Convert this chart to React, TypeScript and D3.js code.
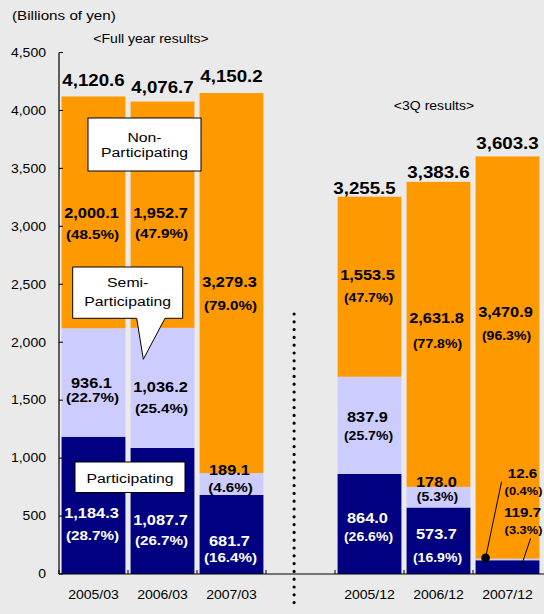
import React from "react";
import * as d3 from "d3";

// ---------- data ----------
const periods = ["2005/03", "2006/03", "2007/03", "2005/12", "2006/12", "2007/12"];
const slots = ["2005/03", "2006/03", "2007/03", "gap", "2005/12", "2006/12", "2007/12"];
const participating = [1184.3, 1087.7, 681.7, 864.0, 573.7, 119.7];
const semiParticipating = [936.1, 1036.2, 189.1, 837.9, 178.0, 12.6];
const nonParticipating = [2000.1, 1952.7, 3279.3, 1553.5, 2631.8, 3470.9];
const totals = [4120.6, 4076.7, 4150.2, 3255.5, 3383.6, 3603.3];
const participatingPct = ["28.7", "26.7", "16.4", "26.6", "16.9", "3.3"];
const semiPct = ["22.7", "25.4", "4.6", "25.7", "5.3", "0.4"];
const nonPct = ["48.5", "47.9", "79.0", "47.7", "77.8", "96.3"];
const yTicks = [0, 500, 1000, 1500, 2000, 2500, 3000, 3500, 4000, 4500];
const seriesKeys = ["participating", "semi", "non"];

// ---------- styling / layout ----------
const W = 544, H = 614;
const SX = 1.17; // horizontal glyph stretch of the reference
const FONT = "'Liberation Sans', Arial, Helvetica, sans-serif";
const COLORS: Record<string, string> = { participating: "#000080", semi: "#CCCCFF", non: "#FF9900" };
const TEXT_FILL: Record<string, string> = { participating: "#FFFFFF", semi: "#000000", non: "#000000" };
// label baseline offset from segment middle, and gap to the percent line
const LABEL_DY: Record<string, number[]> = {
  participating: [12.6, 14, 11.5, -1, -1.7, 0],
  semi: [5.5, 4, -9, -3.3, -10.2, 0],
  non: [5.6, 3.3, 4, -6.7, -11.4, -40.5],
};
const LABEL_GAP: Record<string, number[]> = {
  participating: [22, 20, 16, 18, 23, 17],
  semi: [14, 21, 17, 18, 14, 17],
  non: [21, 20, 23, 22, 25, 23],
};
const TOTAL_DY = [10.5, 8.6, 11, 3, 4, 7];

const fmt = d3.format(",.1f");

function T(props: {
  x: number; y: number; size: number; bold?: boolean; anchor?: string; fill?: string; children: React.ReactNode;
}) {
  const { x, y, size, bold, anchor = "middle", fill = "#000", children } = props;
  return (
    <text
      transform={`translate(${x},${y}) scale(${SX},1)`}
      fontFamily={FONT}
      fontSize={size}
      fontWeight={bold ? "bold" : "normal"}
      textAnchor={anchor}
      fill={fill}
    >
      {children}
    </text>
  );
}

export default function App() {
  const x = d3.scaleBand<string>().domain(slots).range([59, 542]).paddingInner(0.075).paddingOuter(0.0375);
  const y = d3.scaleLinear().domain([0, 4500]).range([574, 52.5]);
  const bw = x.bandwidth();

  const rows = periods.map((p, i) => ({
    period: p,
    participating: participating[i],
    semi: semiParticipating[i],
    non: nonParticipating[i],
  }));
  const stacked = d3.stack<any>().keys(seriesKeys)(rows);
  const pcts: Record<string, string[]> = { participating: participatingPct, semi: semiPct, non: nonPct };

  const step = x.step();
  const x0 = x.range()[0];
  const xTickPositions = d3.range(0, slots.length).map((i) => x0 + i * step);

  const last = periods.length - 1;
  const lastX = x(periods[last])!;
  const calloutX = lastX + bw * 0.72;

  return (
    <svg width={W} height={H} style={{ position: "absolute", left: 0, top: 0, display: "block" }}>
      <rect x={0} y={0} width={W} height={H} fill="#EAEAEA" />

      {/* bars */}
      {stacked.map((s) =>
        s.map((d, i) => (
          <rect
            key={s.key + i}
            x={x(periods[i])}
            y={y(d[1])}
            width={bw}
            height={Math.max(0, y(d[0]) - y(d[1]))}
            fill={COLORS[s.key]}
          />
        ))
      )}
      {/* thin separator line above participating in last bar */}
      <line x1={lastX} x2={lastX + bw} y1={y(participating[last]) - 0.5} y2={y(participating[last]) - 0.5} stroke="#CCCCFF" strokeWidth={1.2} />

      {/* axes */}
      <line x1={59} x2={59} y1={y(4500)} y2={y(0)} stroke="#000" strokeWidth={1.2} />
      {yTicks.map((t) => (
        <g key={t}>
          <line x1={59} x2={63} y1={y(t)} y2={y(t)} stroke="#000" strokeWidth={1} />
          <T x={46} y={y(t) + 4.3} size={12} anchor="end">{d3.format(",")(t)}</T>
        </g>
      ))}
      <line x1={59} x2={W} y1={y(0)} y2={y(0)} stroke="#000" strokeWidth={1.2} />
      {xTickPositions.map((px, i) => (
        <line key={i} x1={px} x2={px} y1={y(0)} y2={y(0) - 4} stroke="#000" strokeWidth={1} />
      ))}
      {periods.map((p) => (
        <T key={p} x={x(p)! + bw / 2} y={599} size={12}>{p}</T>
      ))}

      {/* dotted separator */}
      <line
        x1={x("gap")! + bw * 0.4}
        x2={x("gap")! + bw * 0.4}
        y1={314}
        y2={606}
        stroke="#000"
        strokeWidth={3.2}
        strokeLinecap="round"
        strokeDasharray="0 7.8"
      />

      {/* titles */}
      <T x={12} y={20} size={13} anchor="start">(Billions of yen)</T>
      <T x={151} y={43} size={12}>&lt;Full year results&gt;</T>
      <T x={434} y={110} size={12}>&lt;3Q results&gt;</T>

      {/* totals */}
      {totals.map((t, i) => (
        <T key={i} x={x(periods[i])! + bw / 2 + (i === 3 ? -5 : 0)} y={y(t) - TOTAL_DY[i]} size={16} bold>
          {fmt(t)}
        </T>
      ))}

      {/* segment labels */}
      {stacked.map((s) =>
        s.map((d, i) => {
          const key = s.key as string;
          const isQ = i >= 3;
          if (i === last && key !== "non") return null;
          const mid = (y(d[0]) + y(d[1])) / 2;
          const by = mid + LABEL_DY[key][i];
          const cx = x(periods[i])! + bw / 2 - 2;
          return (
            <g key={"l" + key + i}>
              <T x={cx} y={by} size={14} bold fill={TEXT_FILL[key]}>{fmt(d[1] - d[0])}</T>
              <T x={cx + 1} y={by + LABEL_GAP[key][i]} size={isQ ? 12 : 13} bold fill={TEXT_FILL[key]}>
                ({pcts[key][i]}%)
              </T>
            </g>
          );
        })
      )}

      {/* outside labels for the last bar */}
      <T x={calloutX + 1} y={478} size={13} bold>{fmt(semiParticipating[last])}</T>
      <T x={calloutX + 2} y={495} size={11} bold>({semiPct[last]}%)</T>
      <T x={calloutX + 1} y={517} size={13} bold>{fmt(participating[last])}</T>
      <T x={calloutX + 2} y={534} size={11} bold>({participatingPct[last]}%)</T>
      <line x1={lastX + 26} y1={481.7} x2={lastX + 10} y2={y(participating[last] + semiParticipating[last] / 2) - 1.5} stroke="#000" strokeWidth={1} />
      <circle cx={lastX + 10} cy={y(participating[last] + semiParticipating[last] / 2) - 1.5} r={4.3} fill="#000" />
      <line x1={lastX + 55} y1={538.3} x2={lastX + 45} y2={568.3} stroke="#000" strokeWidth={1} />

      {/* annotation boxes */}
      <rect x={88} y={118} width={113} height={53} fill="#FFF" stroke="#000" strokeWidth={1} />
      <T x={144.5} y={141.5} size={13.5}>Non-</T>
      <T x={144.5} y={157} size={13.5}>Participating</T>

      <path
        d="M72.7,267 H182.7 V318.3 H165 L143.3,359.3 L136.7,318.3 H72.7 Z"
        fill="#FFF"
        stroke="#000"
        strokeWidth={1}
      />
      <T x={127.7} y={287} size={13.5}>Semi-</T>
      <T x={127.7} y={306} size={13.5}>Participating</T>

      <rect x={75} y={462} width={110} height={30.5} fill="#FFF" stroke="#000" strokeWidth={1} />
      <T x={130} y={483} size={13.5}>Participating</T>
    </svg>
  );
}
